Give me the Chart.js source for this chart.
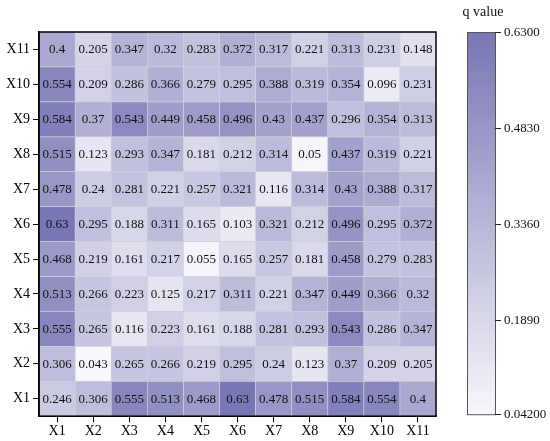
<!DOCTYPE html>
<html>
<head>
<meta charset="utf-8">
<script src="https://cdn.jsdelivr.net/npm/chart.js@4"></script>
<style>
html,body{margin:0;padding:0;background:#fff;}
#wrap{width:550px;height:441px;position:relative;}
</style>
</head>
<body>
<div id="wrap"><canvas id="c"></canvas></div>
<script>
const categories = ['X1','X2','X3','X4','X5','X6','X7','X8','X9','X10','X11'];
// q values, row Xi vs columns X1..X11
const qX1  = [0.246,0.306,0.555,0.513,0.468,0.63,0.478,0.515,0.584,0.554,0.4];
const qX2  = [0.306,0.043,0.265,0.266,0.219,0.295,0.24,0.123,0.37,0.209,0.205];
const qX3  = [0.555,0.265,0.116,0.223,0.161,0.188,0.281,0.293,0.543,0.286,0.347];
const qX4  = [0.513,0.266,0.223,0.125,0.217,0.311,0.221,0.347,0.449,0.366,0.32];
const qX5  = [0.468,0.219,0.161,0.217,0.055,0.165,0.257,0.181,0.458,0.279,0.283];
const qX6  = [0.63,0.295,0.188,0.311,0.165,0.103,0.321,0.212,0.496,0.295,0.372];
const qX7  = [0.478,0.24,0.281,0.221,0.257,0.321,0.116,0.314,0.43,0.388,0.317];
const qX8  = [0.515,0.123,0.293,0.347,0.181,0.212,0.314,0.05,0.437,0.319,0.221];
const qX9  = [0.584,0.37,0.543,0.449,0.458,0.496,0.43,0.437,0.296,0.354,0.313];
const qX10 = [0.554,0.209,0.286,0.366,0.279,0.295,0.388,0.319,0.354,0.096,0.231];
const qX11 = [0.4,0.205,0.347,0.32,0.283,0.372,0.317,0.221,0.313,0.231,0.148];
const rows = [qX1,qX2,qX3,qX4,qX5,qX6,qX7,qX8,qX9,qX10,qX11];

const qMin = 0.042, qMax = 0.63;
const cbTicks = [0.042, 0.189, 0.336, 0.483, 0.63];
const cbTickLabels = ['0.04200','0.1890','0.3360','0.4830','0.6300'];
const cbTitle = 'q value';

const LO = [247,247,252], HI = [120,118,180];
function colorFor(v){
  let t = (v - qMin) / (qMax - qMin);
  t = Math.max(0, Math.min(1, t));
  const c = LO.map((l,i)=>Math.round(l + (HI[i]-l)*t));
  return `rgb(${c[0]},${c[1]},${c[2]})`;
}

const FONT = 'Liberation Serif, Times New Roman, serif';

const heatPlugin = {
  id: 'heat',
  afterDatasetsDraw(chart){
    const ctx = chart.ctx;
    ctx.save();
    ctx.font = `13px ${FONT}`;
    ctx.fillStyle = '#111';
    ctx.textAlign = 'center';
    ctx.textBaseline = 'middle';
    chart.data.datasets.forEach((ds, i) => {
      const meta = chart.getDatasetMeta(i);
      meta.data.forEach((el, j) => {
        const cy = (el.y + el.base) / 2;
        ctx.fillText(String(ds.q[j]), el.x, cy + 0.5);
      });
    });
    const a = chart.chartArea;
    ctx.strokeStyle = '#000';
    ctx.lineWidth = 1.5;
    ctx.strokeRect(a.left, a.top, a.right - a.left, a.bottom - a.top);

    // colour bar
    const cb = chart.scales.cb;
    const x0 = cb.left + 31, w = 28;
    const yTop = cb.getPixelForValue(qMax), yBot = cb.getPixelForValue(qMin) - 2;
    const g = ctx.createLinearGradient(0, yBot, 0, yTop);
    g.addColorStop(0, colorFor(qMin));
    g.addColorStop(1, colorFor(qMax));
    ctx.fillStyle = g;
    ctx.fillRect(x0, yTop, w, yBot - yTop);
    ctx.strokeStyle = '#555';
    ctx.lineWidth = 1;
    ctx.strokeRect(x0 + 0.5, yTop + 0.5, w, yBot - yTop);
    ctx.strokeStyle = '#222';
    ctx.fillStyle = '#111';
    ctx.font = `13px ${FONT}`;
    ctx.textAlign = 'left';
    ctx.textBaseline = 'middle';
    cbTicks.forEach((v, k) => {
      let y = Math.round(cb.getPixelForValue(v)) + 0.5;
      if (k === 0) y = Math.round(yBot) + 0.5;
      ctx.beginPath();
      ctx.moveTo(x0 + w, y);
      ctx.lineTo(x0 + w + 6, y);
      ctx.stroke();
      ctx.fillText(cbTickLabels[k], x0 + w + 9, y);
    });
    ctx.font = `14px ${FONT}`;
    ctx.textAlign = 'center';
    ctx.textBaseline = 'alphabetic';
    ctx.fillText(cbTitle, x0 + w / 2 + 2, 16);
    ctx.restore();
  }
};

new Chart(document.getElementById('c'), {
  type: 'bar',
  data: {
    labels: categories,
    datasets: rows.map((r, i) => ({
      label: categories[i],
      q: r,
      data: categories.map(() => 1),
      backgroundColor: r.map(colorFor),
      borderColor: '#cfcfd6',
      borderWidth: 0.7,
      borderSkipped: false,
      categoryPercentage: 1,
      barPercentage: 1,
      stack: 's'
    }))
  },
  options: {
    responsive: true,
    maintainAspectRatio: false,
    animation: false,
    layout: { padding: { top: 32, left: 3, right: 0, bottom: 0 } },
    plugins: { legend: { display: false }, tooltip: { enabled: false } },
    scales: {
      x: {
        stacked: true,
        grid: { offset: false, drawOnChartArea: false, tickLength: 6, color: '#000', lineWidth: 1 },
        border: { display: true, color: '#000', width: 1.5 },
        ticks: { font: { family: FONT, size: 14 }, color: '#000', padding: 1 }
      },
      y: {
        stacked: true,
        min: 0, max: 11,
        afterBuildTicks: s => { s.ticks = categories.map((c, i) => ({ value: i + 0.5 })); },
        grid: { drawOnChartArea: false, tickLength: 6, color: '#000', lineWidth: 1 },
        border: { display: true, color: '#000', width: 1.5 },
        ticks: { font: { family: FONT, size: 14 }, color: '#000', padding: 3,
                 callback: v => categories[Math.round(v - 0.5)] }
      },
      cb: {
        type: 'linear',
        position: 'right',
        min: qMin, max: qMax,
        grid: { display: false },
        border: { display: false },
        ticks: { display: false },
        afterFit: s => { s.width = 114; }
      }
    }
  },
  plugins: [heatPlugin]
});
</script>
</body>
</html>
